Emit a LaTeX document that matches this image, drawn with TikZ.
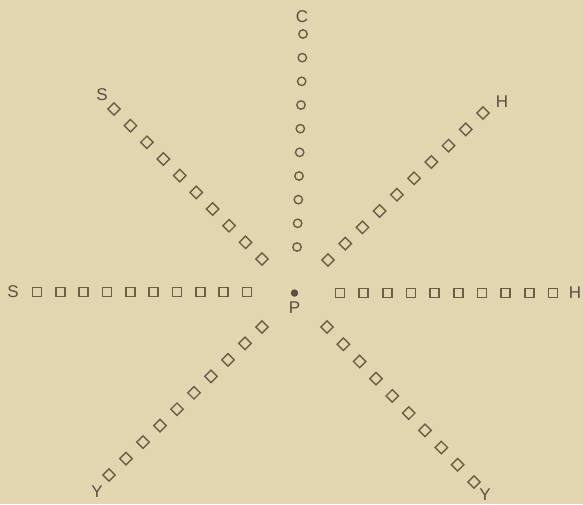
\documentclass[tikz,border=0pt]{standalone}
\usepackage{fontspec}
\setmainfont{Liberation Sans}
\definecolor{paper}{RGB}{226,214,176}
\definecolor{ink}{RGB}{108,94,68}
\definecolor{lettering}{RGB}{88,80,66}
\usetikzlibrary{calc}

\tikzset{
  markline/.style={draw=ink, line width=1.4pt, inner sep=0pt},
  sqmark/.style={markline, rectangle, minimum size=9pt},
  dmmark/.style={markline, rectangle, rotate=45, minimum size=8.8pt},
  cimark/.style={markline, circle, minimum size=8.4pt},
  armlabel/.style={text=lettering, font=\fontsize{17}{17}\selectfont, inner sep=0pt}
}

\begin{document}
\begin{tikzpicture}[x=1pt, y=1pt]
  % Paper
  \fill[paper] (-294.5,-211) rectangle (288.5,293);
  \useasboundingbox (-294.5,-211) rectangle (288.5,293);

  % Centre point
  \node[circle, fill=lettering, minimum size=7.5pt, inner sep=0pt] (P) at (0,0) {};
  \node[armlabel] (lblP) at (0,-15) {P};

  % Arms: marker / near end / far end / name
  \foreach \kind/\nx/\ny/\fx/\fy/\arm in {
      cimark/2.5/46/8.5/259/C,
      sqmark/-47.5/1/-257.5/1/W,
      sqmark/45.5/0/258.5/0/E,
      dmmark/-32.5/34/-180.5/184/NW,
      dmmark/33.5/33/188.5/180/NE,
      dmmark/-32.5/-34/-185.5/-182/SW,
      dmmark/32.5/-34/179.5/-189/SE}
    \foreach \i in {0,...,9}
      \node[\kind] (\arm\i) at ($(\nx,\ny)!\i/9!(\fx,\fy)$) {};

  % Arm labels
  \node[armlabel] (lblC)  at (7.5,276)      {C};
  \node[armlabel] (lblW)  at (-281.5,1)     {S};
  \node[armlabel] (lblE)  at (280.5,0)      {H};
  \node[armlabel] (lblNW) at (-192.5,198)   {S};
  \node[armlabel] (lblNE) at (207.5,191)    {H};
  \node[armlabel] (lblSW) at (-197.5,-199)  {Y};
  \node[armlabel] (lblSE) at (190.5,-202)   {Y};
\end{tikzpicture}
\end{document}
